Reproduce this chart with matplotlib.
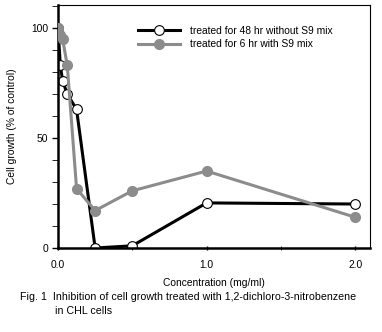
import matplotlib
matplotlib.use("Agg")
import matplotlib.pyplot as plt
from matplotlib.ticker import MultipleLocator

plt.rcParams['font.family'] = ['Liberation Sans', 'DejaVu Sans']

conc = [0, 0.0156, 0.03125, 0.0625, 0.125, 0.25, 0.5, 1.0, 2.0]
growth_48h = [100, 83, 76, 70, 63, 0, 1, 20.5, 20]
growth_6h = [100, 97, 95, 83, 27, 17, 26, 35, 14]
label_48h = "treated for 48 hr without S9 mix"
label_6h = "treated for 6 hr with S9 mix"
x_ticks = [0.0, 1.0, 2.0]
x_ticklabels = ["0.0", "1.0", "2.0"]
y_ticks = [0, 50, 100]
y_ticklabels = ["0", "50", "100"]

fs = 7.4

fig = plt.figure(figsize=(3.82, 3.32), dpi=100)
ax = fig.add_axes([58/382, 84/332, 312/382, 243/332])

ax.plot(conc, growth_48h, color='black', lw=2.2, marker='o', ms=7,
        mfc='white', mec='black', mew=0.8, label=label_48h, zorder=2)
ax.plot(conc, growth_6h, color='#8c8c8c', lw=2.2, marker='o', ms=7,
        mfc='#8c8c8c', mec='#8c8c8c', label=label_6h, zorder=3)

ax.set_xlim(0, 2.1)
ax.set_ylim(0, 110.5)
ax.set_xticks(x_ticks)
ax.set_xticklabels(x_ticklabels)
ax.set_yticks(y_ticks)
ax.set_yticklabels(y_ticklabels)
ax.xaxis.set_minor_locator(MultipleLocator(0.5))
ax.yaxis.set_minor_locator(MultipleLocator(10))
ax.tick_params(axis='both', labelsize=fs, width=1)
ax.tick_params(axis='y', which='both', direction='out', length=4, pad=3)
ax.tick_params(axis='x', which='both', direction='inout', length=3, pad=7)
ax.spines['left'].set_linewidth(1.8)
ax.spines['bottom'].set_linewidth(1.8)
ax.spines['top'].set_linewidth(0.8)
ax.spines['right'].set_linewidth(0.8)

ax.set_xlabel("Concentration (mg/ml)", fontsize=fs, labelpad=6)
ax.set_ylabel("Cell growth (% of control)", fontsize=fs, labelpad=10)

ax.legend(loc='upper left', bbox_to_anchor=(80/312, 1 - 21/243),
          frameon=False, fontsize=fs, handlelength=4.1, handletextpad=1.0,
          labelspacing=0.33, borderaxespad=0, borderpad=0)

fig.text(20/382, 1 - 297/332, "Fig. 1  Inhibition of cell growth treated with 1,2-dichloro-3-nitrobenzene",
         fontsize=7.7, va='center', ha='left')
fig.text(55/382, 1 - 311/332, "in CHL cells", fontsize=7.7, va='center', ha='left')

fig.savefig("out.png", dpi=100)
